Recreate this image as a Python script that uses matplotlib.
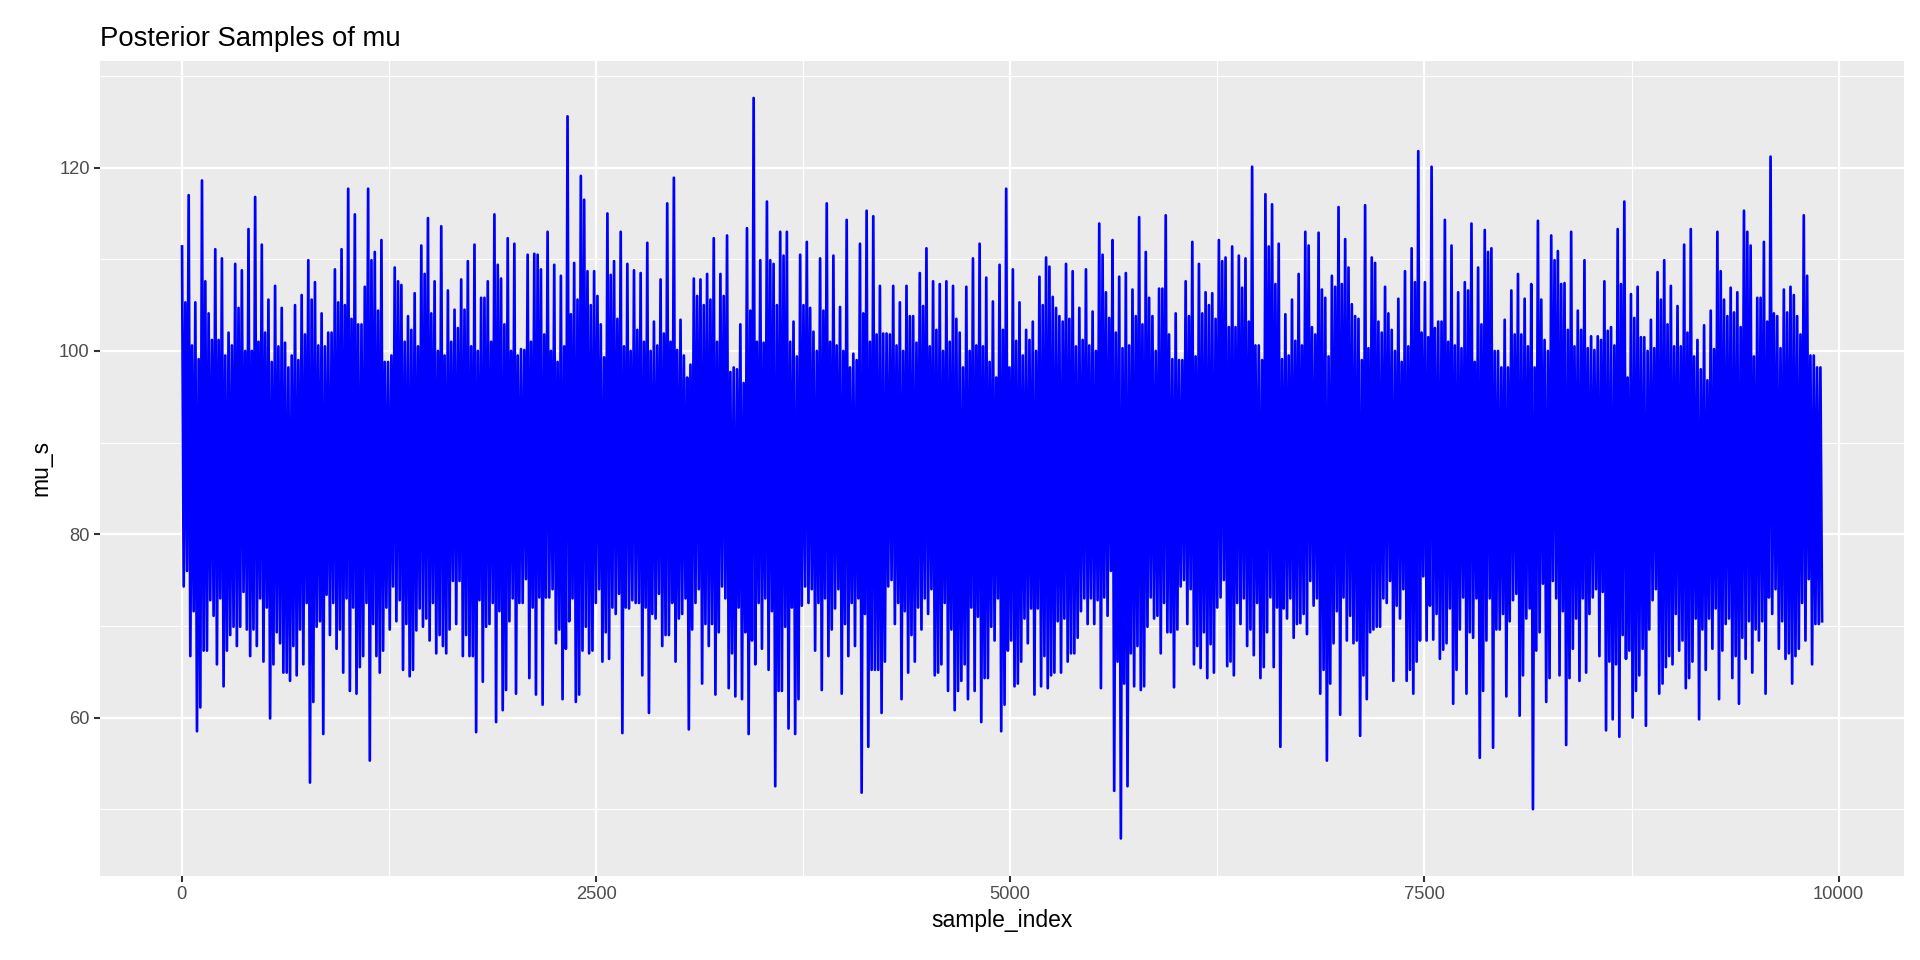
#!/usr/bin/env python3
"""Trace plot of posterior draws of mu (ggplot-like look)."""
import matplotlib
matplotlib.use("Agg")
import matplotlib.pyplot as plt
from matplotlib.ticker import MultipleLocator
import numpy as np

# ---------------------------------------------------------------------------
# Data: thinned trace.  For every block of ~40 draws:
# the highest and lowest draw, plus a second (lesser) high and low spike.
# Total chain length ~9900 draws.
# ---------------------------------------------------------------------------
N_DRAWS = 9900

peaks = [
    111.4, 117.0, 105.3, 118.6, 104.1, 111.1, 110.1, 102.0, 109.5, 108.8, 113.3,
    116.8, 111.6, 105.6, 107.1, 104.7, 98.2, 105.0, 106.1, 109.9, 107.5, 104.1,
    102.0, 108.9, 111.1, 117.7, 114.9, 102.9, 117.7, 110.8, 112.1, 98.8, 109.1,
    107.2, 103.8, 106.3, 111.5, 114.5, 107.6, 113.6, 106.6, 104.5, 107.8, 109.8,
    111.6, 105.8, 107.6, 114.9, 107.9, 112.3, 111.7, 100.2, 110.5, 110.6, 108.9,
    113.0, 109.4, 108.2, 125.6, 109.6, 119.1, 108.7, 108.7, 102.9, 115.0, 109.8,
    113.0, 109.5, 108.8, 108.5, 111.8, 103.2, 107.8, 116.1, 118.9, 103.4, 97.1,
    107.9,
    107.8, 108.4, 112.3, 108.4, 112.6, 98.2, 102.9, 113.4, 127.6, 109.9, 116.3,
    109.5, 113.0, 113.0, 103.2, 110.5, 111.9, 102.1, 110.1, 116.1, 110.4, 104.8,
    114.3, 99.7, 111.7, 115.3, 114.7, 107.1, 101.9, 107.1, 105.3, 107.1, 103.8,
    108.5, 111.2, 107.6, 107.3, 107.6, 107.1, 102.0, 107.0, 110.1, 111.7, 108.0,
    105.4,
    109.4, 117.7, 108.9, 105.3, 102.3, 103.2, 108.1, 110.2, 105.9, 103.8, 109.5,
    108.7, 104.7, 108.9, 104.3, 113.9, 106.4, 112.1, 108.1, 108.5, 106.7, 114.6,
    110.8, 103.8, 106.8, 114.8, 99.1, 99.0, 107.6, 111.9, 109.5, 106.4, 106.3,
    112.1, 110.2, 111.4, 110.4, 110.1, 120.1, 100.6, 117.1, 116.0, 111.7, 104.0,
    105.6,
    108.4, 113.0, 102.6, 112.9, 105.8, 108.2, 115.7, 112.2, 105.1, 103.5, 115.9,
    110.2, 103.2, 107.0, 102.3, 105.7, 108.7, 111.2, 121.8, 107.5, 120.1, 103.2,
    114.3, 111.5, 106.4, 107.5, 113.9, 109.1, 113.2, 111.2, 100.0, 103.4, 106.6,
    108.4, 105.7, 107.3, 114.2, 101.2, 112.6, 110.9, 107.4, 113.0, 104.4, 109.9,
    101.6,
    101.6, 107.6, 102.6, 113.3, 116.3, 106.2, 107.0, 101.5, 103.4, 108.6, 109.9,
    107.1, 104.9, 111.6, 113.3, 101.2, 102.8, 104.4, 113.0, 105.6, 106.9, 106.4,
    115.3, 111.5, 105.8, 111.9, 121.2, 103.8, 106.7, 107.0, 103.8, 114.8, 99.5,
    98.2,
]

troughs = [
    74.3, 66.7, 58.5, 67.3, 72.8, 65.8, 63.4, 69.0, 67.8, 73.7, 66.7, 67.8, 66.1,
    59.9, 69.3, 64.9, 64.0, 64.6, 65.8, 52.9, 69.9, 58.2, 69.0, 67.5, 64.9, 62.9,
    62.6, 66.7, 55.3, 66.7, 67.3, 69.6, 70.5,
    65.2, 64.5, 69.5, 69.9, 68.4, 67.0, 67.8, 69.6, 70.2, 66.7, 66.7, 58.4, 63.9,
    70.2, 59.5, 60.8, 70.5, 62.6, 72.5, 64.3, 62.5, 61.4, 73.1, 68.1, 62.0, 70.5,
    61.7, 67.3, 67.0, 72.5, 66.1, 66.4, 71.3, 58.3, 71.9, 72.5, 64.6, 60.5, 70.8,
    67.8, 69.0, 66.1, 71.3, 58.7, 72.5,
    63.7, 67.8, 62.5, 74.3, 63.2, 62.3, 62.0, 58.2, 65.8, 67.5, 65.2, 52.5, 62.9,
    58.8, 58.2, 72.2, 72.5, 67.3, 63.0, 66.7, 71.9, 62.6, 66.7, 67.8, 51.8, 56.8,
    65.2, 60.5, 74.3, 70.2, 62.0, 64.9, 66.1, 69.6, 71.3, 64.6, 65.8, 62.9, 60.8,
    64.0, 62.0, 62.9, 59.5, 64.3, 68.4,
    58.5, 67.3, 63.4, 66.1, 68.1, 62.5, 63.4, 63.2, 64.9, 64.9, 66.1, 67.0, 71.6,
    70.2, 70.2, 63.2, 71.1, 52.0, 46.8, 52.5, 63.4, 63.0, 69.9, 70.8, 67.0, 69.3,
    63.3, 74.3, 70.2, 65.8, 65.4, 64.3, 64.9, 73.1, 65.6, 64.6, 70.2, 67.8, 66.8,
    64.3, 69.3, 65.5, 56.8, 70.8, 68.7,
    70.3, 69.1, 72.2, 62.6, 55.3, 68.1, 60.3, 68.4, 68.1, 58.0, 62.0, 69.6, 69.9,
    72.5, 64.0, 70.8, 64.0, 62.6, 68.4, 68.4, 68.5, 66.4, 68.1, 61.5, 69.6, 62.6,
    68.7, 55.6, 68.4, 56.7, 69.6, 62.3, 72.8, 60.2, 70.8, 50.0, 69.3, 61.7, 74.9,
    64.6, 57.0, 67.5, 64.0, 64.9, 73.1,
    66.7, 58.6, 59.8, 57.9, 66.4, 60.0, 64.6, 59.1, 72.8, 62.6, 65.5, 65.8, 67.3,
    63.2, 66.1, 59.8, 65.2, 67.5, 62.0, 70.2, 64.3, 61.5, 66.4, 64.9, 68.4, 62.6,
    71.3, 67.5, 66.4, 63.7, 67.5, 68.4, 65.8, 70.2,
]

second_peaks = [
    105.3, 100.6, 99.1, 107.6, 101.2, 101.2, 99.5, 100.6, 104.7, 100.0, 100.0,
    101.0, 102.0, 98.8, 100.5, 100.9, 99.5, 99.0, 101.8, 105.6, 100.6, 100.5,
    102.0, 105.3, 105.0, 103.5, 102.9, 107.0, 109.9, 104.4, 98.8, 99.5, 107.6,
    101.0, 102.3, 100.5, 108.4, 104.1, 100.0, 99.5, 101.0, 102.5, 104.5, 100.5,
    100.0, 105.8, 101.0, 109.4, 102.9, 100.0, 99.5, 100.1, 101.0, 110.5, 101.8,
    100.0, 98.8, 100.5, 104.0, 105.6, 116.5, 105.0, 106.0, 99.3, 108.3, 103.5,
    100.5, 100.0, 102.3, 101.0, 100.0, 100.6, 101.9, 101.0, 100.1, 99.5, 98.5,
    106.0,
    105.0, 105.6, 101.0, 106.0, 97.7, 98.0, 96.5, 104.4, 101.0, 100.9, 109.9,
    105.0, 110.4, 101.0, 99.4, 105.0, 104.7, 100.0, 104.4, 101.0, 100.6, 100.0,
    98.2, 99.0, 104.1, 101.0, 101.8, 101.9, 101.8, 100.6, 100.0, 103.8, 100.9,
    104.9, 100.5, 102.3, 100.0, 101.0, 103.5, 98.2, 100.0, 100.6, 100.5, 98.8,
    97.1,
    102.3, 98.2, 101.1, 99.5, 101.2, 100.0, 105.0, 109.2, 104.7, 103.2, 103.5,
    100.5, 101.2, 100.6, 100.0, 110.5, 103.6, 102.0, 100.3, 100.6, 103.8, 102.9,
    105.8, 100.0, 106.8, 101.8, 104.1, 99.0, 103.8, 99.4, 104.1, 105.0, 103.5,
    109.8, 102.6, 102.6, 106.9, 103.2, 100.6, 99.0, 111.4, 107.3, 99.1, 99.5,
    101.1,
    100.6, 111.5, 101.8, 106.7, 99.4, 107.0, 107.3, 109.1, 103.8, 99.0, 100.3,
    109.6, 102.0, 104.1, 100.0, 98.8, 100.5, 107.5, 102.0, 101.5, 102.5, 103.2,
    101.0, 100.6, 100.3, 106.6, 98.8, 102.9, 110.8, 100.0, 98.2, 98.2, 101.8,
    101.8, 100.5, 98.2, 105.6, 100.0, 109.9, 107.3, 102.3, 100.5, 102.3, 100.3,
    100.1,
    101.2, 102.2, 100.6, 107.3, 97.1, 103.6, 101.5, 100.0, 100.3, 105.6, 102.9,
    100.5, 100.5, 102.0, 99.4, 98.0, 96.8, 100.2, 108.7, 103.8, 104.2, 102.6,
    113.0, 99.4, 105.8, 103.2, 104.1, 100.3, 104.2, 106.1, 101.8, 108.2, 99.5,
    98.2,
]

second_troughs = [
    76.0, 71.6, 61.1, 67.3, 71.1, 73.0, 67.3, 69.9, 69.9, 69.6, 69.6, 73.0, 72.0,
    65.8, 68.1, 64.9, 67.8, 69.6, 72.5, 61.7, 70.5, 73.4, 72.5, 69.6, 73.0, 72.0,
    65.5, 72.5, 70.2, 64.9, 72.0, 74.3, 72.8,
    70.2, 65.2, 71.9, 70.8, 72.5, 69.0, 67.0, 74.9, 74.9, 69.0, 66.7, 72.8, 69.9,
    72.5, 71.6, 63.0, 73.0, 72.5, 75.1, 72.0, 73.1, 73.1, 74.0, 69.6, 67.5, 73.0,
    62.5, 69.9, 67.3, 74.0, 69.3, 72.0, 73.5, 72.0, 72.8, 72.5, 72.0, 71.3, 73.5,
    69.0, 72.5, 70.8, 73.0, 69.6, 74.0,
    70.2, 70.2, 69.3, 73.0, 67.0, 72.0, 69.3, 68.4, 72.5, 73.0, 71.6, 62.9, 69.9,
    72.0, 62.0, 74.3, 74.0, 72.5, 73.0, 69.6, 74.0, 70.2, 72.5, 73.0, 71.3, 65.2,
    65.2, 66.1, 75.0, 72.5, 71.6, 69.0, 72.0, 73.0, 74.0, 64.9, 72.5, 69.6, 62.9,
    65.8, 72.0, 71.0, 64.3, 69.9, 73.0,
    61.4, 68.4, 63.7, 70.8, 71.9, 71.9, 66.7, 64.6, 70.5, 70.8, 67.0, 68.7, 73.0,
    73.0, 72.8, 73.1, 76.0, 66.1, 63.7, 67.0, 67.8, 63.4, 73.1, 71.1, 72.5, 69.3,
    69.6, 75.0, 74.0, 67.8, 69.3, 68.0, 72.0, 75.0, 66.1, 72.5, 73.0, 69.6, 72.5,
    65.5, 73.1, 72.0, 71.9, 73.0, 70.2,
    71.3, 74.9, 73.0, 65.2, 63.7, 71.6, 73.1, 71.1, 68.4, 64.6, 69.3, 69.9, 73.0,
    74.9, 72.2, 74.0, 65.2, 66.1, 75.4, 72.2, 71.3, 67.4, 71.9, 65.2, 73.1, 69.3,
    73.0, 62.9, 73.0, 69.6, 71.3, 70.5, 73.5, 64.6, 71.9, 67.3, 74.6, 64.3, 73.0,
    71.6, 64.3, 70.8, 73.0, 71.3, 74.0,
    73.7, 66.1, 65.8, 69.0, 67.3, 62.9, 67.5, 69.6, 74.0, 63.7, 66.7, 71.3, 68.4,
    64.3, 70.8, 69.6, 70.8, 71.9, 67.3, 70.8, 66.7, 68.7, 70.5, 69.6, 70.5, 73.1,
    74.0, 70.5, 67.0, 66.7, 72.5, 75.1, 70.2, 70.5,
]

# assemble the thinned chain block by block: peak, trough, 2nd peak, 2nd trough
mu_s = np.array([v for block in zip(peaks, troughs, second_peaks, second_troughs)
                 for v in block])
sample_index = np.linspace(1, N_DRAWS, len(mu_s))

# ---------------------------------------------------------------------------
# Figure
# ---------------------------------------------------------------------------
plt.rcParams["font.family"] = ["Liberation Sans", "DejaVu Sans"]

fig = plt.figure(figsize=(12.8, 6.4), dpi=150)
ax = fig.add_axes([0.0521, 0.0880, 0.9396, 0.8485])

ax.set_facecolor("#EBEBEB")
for s in ax.spines.values():
    s.set_visible(False)

ax.plot(sample_index, mu_s, color="#0000FF", linewidth=1.3)
ax.margins(x=0.05, y=0.05)

ax.xaxis.set_major_locator(MultipleLocator(2500))
ax.xaxis.set_minor_locator(MultipleLocator(1250))
ax.yaxis.set_major_locator(MultipleLocator(20))
ax.yaxis.set_minor_locator(MultipleLocator(10))
ax.grid(True, which="major", color="white", linewidth=1.1)
ax.grid(True, which="minor", color="white", linewidth=0.55)
ax.set_axisbelow(True)

ax.tick_params(which="major", length=2.75, width=1.0, color="#333333",
               labelcolor="#4D4D4D", labelsize=8.8, pad=2.2)
ax.tick_params(which="minor", length=0)

ax.set_xlabel("sample_index", fontsize=11, color="black", labelpad=3)
ax.set_ylabel("mu_s", fontsize=11, color="black", labelpad=3)
ax.set_title("Posterior Samples of mu", loc="left", fontsize=13.2,
             color="black", pad=7)

fig.savefig("out.png", dpi=150)
